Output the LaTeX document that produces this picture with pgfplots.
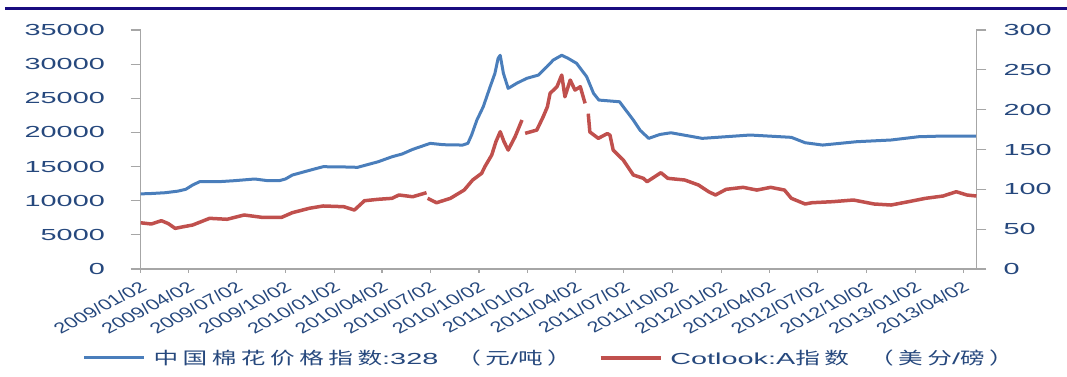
\documentclass[border=0pt]{standalone}
\usepackage{fontspec}
\setmainfont{Liberation Sans}
\newfontfamily\latw[FakeStretch=1.8]{Liberation Sans}
\newfontfamily\cjk[FakeStretch=1.45]{Noto Sans CJK SC}
\usepackage{pgfplots}
\pgfplotsset{compat=1.18}
\definecolor{lblue}{RGB}{74,126,187}
\definecolor{lred}{RGB}{192,80,77}
\definecolor{txt}{RGB}{38,72,125}
\definecolor{axgray}{RGB}{166,166,166}
\definecolor{navyline}{RGB}{25,12,128}
\newcommand{\cjkgap}{\kern4.5pt}
\newcommand{\cjkf}{\cjk\fontsize{17}{19}\selectfont}
\pgfplotsset{
  base/.style={
    scale only axis, width=835.7pt, height=239pt,
    at={(140.7pt,108pt)}, anchor=south west,
    xmin=0, xmax=1576,
    axis line style={-, axgray, line width=1.2pt},
    tick style={axgray, line width=1.2pt},
    tick align=outside,
    scaled y ticks=false,
    /pgf/number format/assume math mode=true,
    /pgf/number format/1000 sep={},
    clip=false,
  }
}
\begin{document}
\begin{tikzpicture}
\useasboundingbox (0,0) rectangle (1067pt,377pt);
\draw[navyline, line width=3pt] (5pt,368pt) -- (1067pt,368pt);
% x axis
\begin{axis}[base,
  ymin=0, ymax=35000,
  axis y line=none, axis x line*=bottom,
  major tick length=4pt,
  xtick={0,90,181,273,365,455,546,638,730,820,911,1003,1095,1186,1277,1369,1461,1551},
  xticklabels={2009/01/02,2009/04/02,2009/07/02,2009/10/02,2010/01/02,2010/04/02,2010/07/02,2010/10/02,2011/01/02,2011/04/02,2011/07/02,2011/10/02,2012/01/02,2012/04/02,2012/07/02,2012/10/02,2013/01/02,2013/04/02},
  xticklabel style={font=\fontsize{15}{17}\selectfont, text=txt, xshift=3pt, yshift=-12pt, xscale=1.45, rotate=36.8, anchor=east, inner sep=0pt},
]
\end{axis}
% left axis
\begin{axis}[base,
  ymin=0, ymax=35000,
  axis x line=none, axis y line*=left,
  major tick length=10pt,
  ytick={0,5000,...,35000},
  yticklabel style={font=\latw\fontsize{16}{18}\selectfont, text=txt, anchor=east, inner sep=0pt, xshift=-25.7pt},
]
\addplot[lblue, line width=3pt, line join=round] coordinates {
(0,11000) (19,11050) (46,11170) (70,11400) (85,11670) (98,12300) (111,12780) (150,12800) (176,12930) (215,13180) (240,12930) (262,12950) (273,13180) (286,13760) (325,14590) (344,14980) (380,14950) (409,14890) (448,15710) (474,16440) (493,16840) (513,17520) (546,18400) (571,18200) (607,18150) (617,18400) (624,19620) (634,21810) (646,23760) (659,26690) (668,28650) (674,30850) (678,31300) (684,28650) (693,26450) (709,27190) (728,27920) (750,28400) (766,29620) (778,30600) (794,31300) (806,30850) (822,30120) (841,28160) (854,25720) (864,24740) (903,24490) (929,21810) (942,20300) (958,19130) (979,19700) (1000,19950) (1059,19130) (1149,19620) (1227,19280) (1253,18490) (1286,18150) (1350,18640) (1415,18890) (1467,19370) (1513,19470) (1576,19470)
};
\end{axis}
% right axis
\begin{axis}[base,
  ymin=0, ymax=300,
  axis x line=none, axis y line*=right,
  major tick length=10pt,
  ytick={0,50,...,300},
  yticklabel style={font=\latw\fontsize{16}{18}\selectfont, text=txt, anchor=west, inner sep=0pt, xshift=17pt},
  unbounded coords=jump,
  legend columns=2,
  legend image code/.code={\draw[#1] (0pt,0pt) -- (60pt,0pt);},
  legend style={at={(axis description cs:-0.0696,-0.372)}, anchor=west, draw=none, fill=none, inner sep=0pt, outer sep=0pt,
    nodes={inner sep=0pt, text=txt, font=\fontsize{16}{18}\selectfont},
    /tikz/every even column/.append style={column sep=27pt},
    /tikz/every odd column/.append style={column sep=8pt}},
]
\addlegendimage{lblue, line width=3pt}
\addlegendentry{{\cjkf 中\cjkgap 国\cjkgap 棉\cjkgap 花\cjkgap 价\cjkgap 格\cjkgap 指\cjkgap 数}{\latw :328}\hspace{18pt}{\cjkf （\cjkgap 元}{\latw /}{\cjkf 吨\cjkgap ）}}
\addplot[lred, line width=3.5pt, line join=round] coordinates {
(0,58) (20,56.5) (39,60.6) (52,57) (65,51) (80,53) (98,55.2) (130,63.6) (163,62.4) (195,67.8) (228,64.9) (266,64.9) (286,70.7) (318,76.2) (344,79.1) (383,78.2) (403,74) (422,85.7) (448,87.5) (474,88.7) (487,92.9) (513,90.7) (539,95.8) (540,nan) (541,88.7) (558,83.2) (584,88.7) (610,99.1) (626,111.7) (643,120.1) (649,128.4) (662,143.1) (670,160) (678,172.3) (685,160) (693,149.3) (706,166) (719,187) (722,nan) (725,170.3) (747,174.4) (759,191.1) (767,203.7) (772,220.5) (785,228.8) (794,243.5) (800,216.2) (810,237.2) (819,224.6) (829,228.8) (838,207.9) (841,nan) (844,195) (847,172) (863,164) (880,170) (885,168) (891,149.3) (910,136.8) (929,118) (948,113.8) (955,109.6) (981,120.9) (994,113.8) (1026,111.7) (1052,105.4) (1071,97) (1084,92.9) (1104,100) (1136,102.5) (1162,99.1) (1188,102.5) (1214,99.1) (1227,88.7) (1253,81.6) (1266,83.2) (1305,84.5) (1344,86.6) (1383,81.6) (1415,80.3) (1448,84.5) (1480,88.7) (1513,91.6) (1538,97) (1558,92.9) (1576,91.6)
};
\addlegendentry{{\latw Cotlook:A}{\cjkf 指\cjkgap 数\hspace{20pt}（\cjkgap 美\cjkgap 分}{\latw /}{\cjkf 磅\cjkgap ）}}
\end{axis}
\end{tikzpicture}
\end{document}
